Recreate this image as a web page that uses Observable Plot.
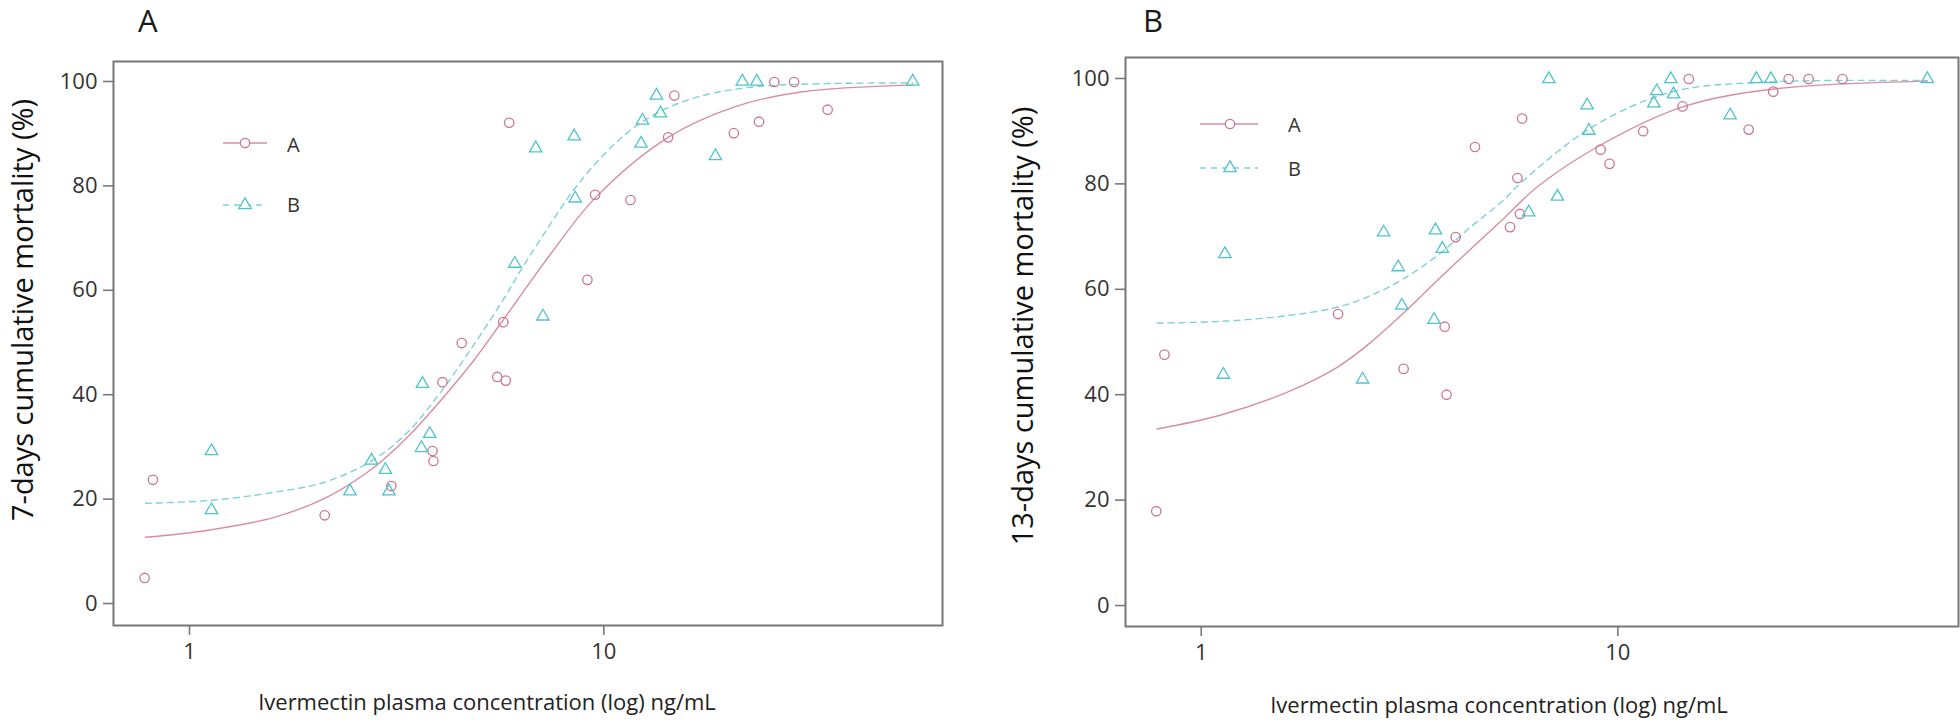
<!DOCTYPE html>
<html><head><meta charset="utf-8">
<script src="https://cdn.jsdelivr.net/npm/d3@7"></script>
<script src="https://cdn.jsdelivr.net/npm/@observablehq/plot@0.6"></script>
<style>
html,body{margin:0;padding:0;background:#fff;}
#wrap{position:relative;width:1960px;height:720px;overflow:hidden;font-family:"Open Sans",sans-serif;background:#fff;}
#wrap svg{position:absolute;top:0;}
[aria-label$="-axis tick"] path, [aria-label$="-axis"] .tick line{stroke:#7a7a7a;stroke-width:1.6;}
</style></head><body><div id="wrap"></div>
<script>
// ---------- data ----------
const xTicks = [1, 10];
const yTicks = [0, 20, 40, 60, 80, 100];
const seriesNames = ["A", "B"];
const panelLetters = ["A", "B"];
const yLabels = ["7-days cumulative mortality (%)", "13-days cumulative mortality (%)"];
const xLabel = "Ivermectin plasma concentration (log) ng/mL";

// Panel A (7 days) - group A (circles)
const d7_A_conc = [0.779,0.816,2.12,3.07,3.86,3.88,4.08,4.54,5.53,5.80,5.72,5.91,9.13,9.53,11.6,14.3,14.8,20.6,23.7,25.8,28.8,34.7];
const d7_A_mort = [4.9,23.7,16.9,22.5,29.2,27.3,42.4,49.9,43.4,42.7,53.9,92.1,62.0,78.3,77.3,89.3,97.3,90.1,92.3,99.9,99.9,94.6];
// Panel A (7 days) - group B (triangles)
const d7_B_conc = [1.13,1.13,2.44,2.75,2.97,3.03,3.63,3.65,3.80,6.10,6.85,7.13,8.48,8.53,12.3,12.4,13.4,13.7,18.6,21.6,23.4,55.7];
const d7_B_mort = [29.2,17.9,21.5,27.4,25.6,21.5,29.8,42.1,32.5,65.1,87.2,55.0,89.5,77.6,88.1,92.5,97.3,93.9,85.7,100,100,100];
// Panel A fitted curves
const d7_fitA_conc = [0.783,1.10,1.60,2.15,2.79,3.36,4.04,4.86,5.75,7.45,9.56,14.3,20.6,29.9,55.7];
const d7_fitA_mort = [12.7,14.0,16.5,20.4,26.1,31.9,38.9,46.6,54.6,67.0,77.8,89.3,95.1,98.0,99.3];
const d7_fitB_conc = [0.783,1.10,1.60,2.15,2.79,3.36,4.04,4.86,5.75,6.30,7.20,8.53,10.3,12.4,15.6,22.6,55.7];
const d7_fitB_mort = [19.2,19.7,21.3,23.4,27.6,32.8,40.5,49.6,58.5,63.8,71.0,79.6,87.0,92.3,96.2,98.9,99.7];

// Panel B (13 days) - group A (circles)
const d13_A_conc = [0.78,0.816,2.13,3.06,3.84,3.88,4.08,4.54,5.51,5.74,5.82,5.89,9.09,9.55,11.5,14.3,14.8,20.6,23.6,25.7,28.7,34.6];
const d13_A_mort = [17.9,47.6,55.3,44.9,52.9,40.0,69.9,87.0,71.8,81.1,74.3,92.4,86.5,83.8,90.0,94.7,99.9,90.3,97.5,99.9,99.9,99.9];
// Panel B (13 days) - group B (triangles)
const d13_B_conc = [1.13,1.14,2.44,2.74,2.97,3.03,3.62,3.65,3.79,6.11,6.83,7.16,8.44,8.52,12.2,12.4,13.4,13.6,18.6,21.5,23.3,55.3];
const d13_B_mort = [43.8,66.7,42.9,70.8,64.2,56.9,54.2,71.2,67.7,74.6,99.9,77.6,94.9,90.1,95.3,97.6,99.9,97.0,93.0,99.9,99.9,99.9];
// Panel B fitted curves
const d13_fitA_conc = [0.784,1.11,1.61,2.12,2.55,3.06,3.69,4.43,5.33,6.40,8.92,14.3,23.7,55.3];
const d13_fitA_mort = [33.5,36.1,40.5,45.2,49.9,55.5,61.7,67.6,73.5,79.4,87.0,94.6,98.0,99.5];
const d13_fitB_conc = [0.784,1.11,1.61,2.12,2.55,3.06,3.69,4.43,5.33,5.74,8.60,13.4,22.4,55.3];
const d13_fitB_mort = [53.6,53.9,55.0,56.6,58.8,62.0,66.4,71.8,77.0,79.6,90.6,97.4,99.3,99.6];

// ---------- styling ----------
const pinkDot = "#c9768e", pinkLine = "#d88ea2";
const cyanDot = "#4fc4ca", cyanLine = "#7dd2d6";
const FONT = "'Open Sans', sans-serif";

const zip = (xs, ys) => xs.map((c, i) => ({c, m: ys[i]}));

const panels = [
  {left: 0, ml: 113, mr: 38, mt: 61, mb: 95, xd: [0.6555, 65.7], yd: [-4.21, 103.83],
   A: zip(d7_A_conc, d7_A_mort), B: zip(d7_B_conc, d7_B_mort),
   fA: zip(d7_fitA_conc, d7_fitA_mort), fB: zip(d7_fitB_conc, d7_fitB_mort),
   letter: [138, 32], ylab: [21, 310], xlab: [487, 710],
   leg: {x1: 223, x2: 267, xm: 245, y: [143, 205], tx: 287, ty: [152, 212]}},
  {left: 980, ml: 145, mr: 2, mt: 57, mb: 94, xd: [0.658, 65.7], yd: [-3.98, 103.98],
   A: zip(d13_A_conc, d13_A_mort), B: zip(d13_B_conc, d13_B_mort),
   fA: zip(d13_fitA_conc, d13_fitA_mort), fB: zip(d13_fitB_conc, d13_fitB_mort),
   letter: [1143, 32], ylab: [1021, 326], xlab: [1499, 713],
   leg: {x1: 1200, x2: 1258, xm: 1230, y: [124, 168], tx: 1288, ty: [132, 176]}}
];

const wrap = document.getElementById("wrap");

panels.forEach((p) => {
  const svg = Plot.plot({
    width: 980, height: 720,
    marginLeft: p.ml, marginRight: p.mr, marginTop: p.mt, marginBottom: p.mb,
    x: {type: "log", domain: p.xd, ticks: xTicks, tickFormat: d => String(d), tickSize: 10, tickPadding: 8, label: null},
    y: {domain: p.yd, ticks: yTicks, tickSize: 10, tickPadding: 6, label: null},
    style: {fontFamily: FONT, fontSize: "22px", color: "#333", background: "transparent", overflow: "visible"},
    marks: [
      Plot.line(p.fA, {x: "c", y: "m", stroke: pinkLine, strokeWidth: 1.4, curve: "catmull-rom"}),
      Plot.line(p.fB, {x: "c", y: "m", stroke: cyanLine, strokeWidth: 1.4, strokeDasharray: "6,5", curve: "catmull-rom"}),
      Plot.dot(p.A, {x: "c", y: "m", r: 4.7, symbol: "circle", stroke: pinkDot, strokeWidth: 1.3, fill: "none"}),
      Plot.dot(p.B, {x: "c", y: "m", r: 4.6, symbol: "triangle", stroke: cyanDot, strokeWidth: 1.3, fill: "none"}),
      Plot.frame({stroke: "#777", strokeWidth: 2})
    ]
  });
  svg.style.position = "absolute";
  svg.style.left = p.left + "px";
  svg.style.top = "0px";
  svg.style.maxWidth = "none";
  wrap.appendChild(svg);
});

// overlay: panel letters, axis titles, legends
const ov = d3.select(wrap).append("svg")
  .attr("width", 1960).attr("height", 720)
  .style("position", "absolute").style("left", "0px").style("top", "0px")
  .style("pointer-events", "none")
  .attr("font-family", FONT);

panels.forEach((p, i) => {
  ov.append("text").attr("x", p.letter[0]).attr("y", p.letter[1])
    .attr("font-size", 31).attr("fill", "#1a1a1a").text(panelLetters[i]);
  ov.append("text").attr("transform", `translate(${p.ylab[0]},${p.ylab[1]}) rotate(-90)`)
    .attr("text-anchor", "middle").attr("dominant-baseline", "central")
    .attr("font-size", 29).attr("fill", "#111").text(yLabels[i]);
  ov.append("text").attr("x", p.xlab[0]).attr("y", p.xlab[1])
    .attr("text-anchor", "middle").attr("font-size", 22).attr("fill", "#222").text(xLabel);

  const L = p.leg;
  // series A legend
  ov.append("line").attr("x1", L.x1).attr("x2", L.x2).attr("y1", L.y[0]).attr("y2", L.y[0])
    .attr("stroke", pinkLine).attr("stroke-width", 1.4);
  ov.append("path").attr("transform", `translate(${L.xm},${L.y[0]})`)
    .attr("d", d3.symbol(d3.symbolCircle, Math.PI * 4.7 * 4.7)())
    .attr("fill", "#fff").attr("stroke", pinkDot).attr("stroke-width", 1.3);
  ov.append("text").attr("x", L.tx).attr("y", L.ty[0]).attr("font-size", 20).attr("fill", "#333").text(seriesNames[0]);
  // series B legend
  ov.append("line").attr("x1", L.x1).attr("x2", L.x2).attr("y1", L.y[1]).attr("y2", L.y[1])
    .attr("stroke", cyanLine).attr("stroke-width", 1.4).attr("stroke-dasharray", "6,5");
  ov.append("path").attr("transform", `translate(${L.xm},${L.y[1]})`)
    .attr("d", d3.symbol(d3.symbolTriangle, Math.PI * 4.6 * 4.6)())
    .attr("fill", "#fff").attr("stroke", cyanDot).attr("stroke-width", 1.3);
  ov.append("text").attr("x", L.tx).attr("y", L.ty[1]).attr("font-size", 20).attr("fill", "#333").text(seriesNames[1]);
});
</script></body></html>
